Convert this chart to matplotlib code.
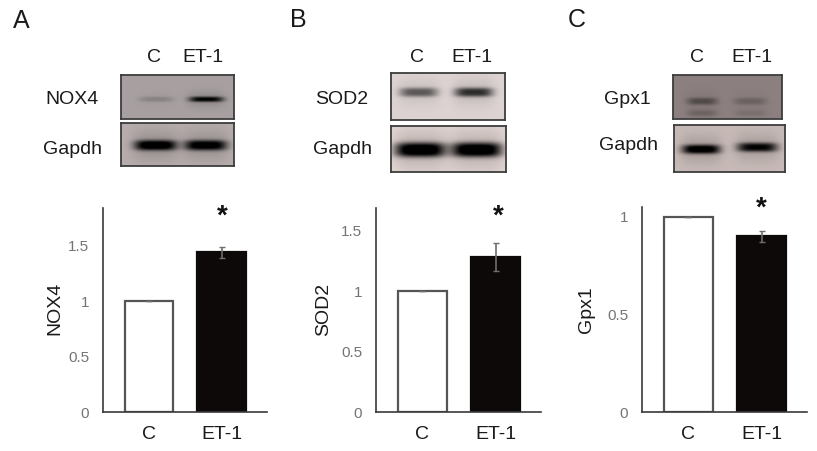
import numpy as np
import matplotlib
matplotlib.use('Agg')
import matplotlib.pyplot as plt

plt.rcParams['font.family'] = ['Liberation Sans', 'DejaVu Sans']

W, H = 817, 451

# -----------------------------------------------------------------
# Donnees
# -----------------------------------------------------------------
groups = ['C', 'ET-1']
panel_names = ['A', 'B', 'C']
proteins = ['NOX4', 'SOD2', 'Gpx1']

nox4_values = [1.0, 1.44]
nox4_low = [0.0, 0.05]
nox4_high = [0.0, 0.05]
sod2_values = [1.0, 1.285]
sod2_low = [0.0, 0.12]
sod2_high = [0.0, 0.115]
gpx1_values = [1.0, 0.90]
gpx1_low = [0.0, 0.03]
gpx1_high = [0.0, 0.028]

nox4_ticks = [0, 0.5, 1, 1.5]
sod2_ticks = [0, 0.5, 1, 1.5]
gpx1_ticks = [0, 0.5, 1]

# Intensite des bandes de western blot (0 = rien, 1 = tres sombre)
nox4_bands = [0.16, 0.85]
gapdh_a_bands = [1.0, 0.95]
sod2_bands = [0.50, 0.68]
gapdh_b_bands = [1.0, 1.0]
gpx1_bands = [0.36, 0.20]
gapdh_c_bands = [0.95, 0.85]


def px_axes(fig, x0, y0, x1, y1):
    """Axes places en pixels de l'image (origine en haut a gauche)."""
    return fig.add_axes([x0 / W, 1 - y1 / H, (x1 - x0) / W, (y1 - y0) / H])


def draw_blot(fig, box, bg, centers, half_widths, band_y, thick, strengths, tail=None):
    x0, y0, x1, y1 = box
    ax = px_axes(fig, x0, y0, x1, y1)
    xx, yy = np.meshgrid(np.arange(x0, x1, 0.5), np.arange(y0, y1, 0.5))
    dark = np.zeros_like(xx)
    for xc, hw, yc, s in zip(centers, half_widths, band_y, strengths):
        dark += s * np.exp(-((xx - xc) / hw)**4) * np.exp(-(np.abs(yy - yc) / thick)**3)
        # halo autour de la bande
        dark += 0.18 * s * np.exp(-((xx - xc) / (hw * 1.1))**4) * np.exp(-((yy - yc) / (thick * 3))**2)
        if tail is not None:
            dark += tail * s * np.exp(-((xx - xc) / hw)**4) * np.exp(-((yy - yc - 12) / 3.5)**2)
    base = np.array(bg)
    img = base[None, None, :] * (1 - np.clip(dark, 0, 1)[:, :, None])
    ax.imshow(img, extent=(x0, x1, y1, y0), aspect='auto', interpolation='bilinear')
    ax.set_xticks([])
    ax.set_yticks([])
    for s in ax.spines.values():
        s.set_linewidth(1.3)
        s.set_color('#3d3d3d')
    return ax


def draw_bars(fig, box, name, values, low, high, ticks, ylim_top, ylabel_x, ylabel_y, star):
    x0, y0, x1, y1 = box
    ax = px_axes(fig, x0, y0, x1, y1)
    ax.patch.set_alpha(0)
    ax.bar([0, 1], values, width=0.67, color=['white', '#0c0908'],
           edgecolor=['#555555', '#0c0908'], linewidth=1.6, zorder=2)
    ax.errorbar([0, 1], values, yerr=[low, high], fmt='none', ecolor='#6e6e6e',
                elinewidth=1.2, capsize=2.5, capthick=1.0, zorder=3)
    ax.set_xlim(-0.63, 1.62)
    ax.set_ylim(0, ylim_top)
    ax.set_xticks([0, 1])
    ax.set_xticklabels(groups, fontsize=14, color='#1a1a1a')
    ax.set_yticks(ticks)
    ax.set_yticklabels([f'{t:g}' for t in ticks], fontsize=11, color='#747474')
    ax.tick_params(axis='x', length=0, pad=10)
    ax.tick_params(axis='y', length=0, pad=10)
    ax.spines['top'].set_visible(False)
    ax.spines['right'].set_visible(False)
    ax.spines['left'].set_color('#3a3a3a')
    ax.spines['bottom'].set_color('#3a3a3a')
    ax.spines['left'].set_linewidth(1.2)
    ax.spines['bottom'].set_linewidth(1.2)
    ax.set_ylabel(name, fontsize=14, color='#1a1a1a', va='center')
    ax.yaxis.set_label_coords(ylabel_x / W, 1 - ylabel_y / H, transform=fig.transFigure)
    fig.text(star[0] / W, 1 - star[1] / H, '*', fontsize=20, fontweight='bold',
             ha='center', va='center', color='#111111')
    return ax


def label(fig, x, y, s, size=14, color='#1a1a1a'):
    fig.text(x / W, 1 - y / H, s, fontsize=size, ha='center', va='center', color=color)


fig = plt.figure(figsize=(W / 100, H / 100), dpi=100)

# -----------------------------------------------------------------
# Panneau A
# -----------------------------------------------------------------
draw_blot(fig, (121, 75, 234, 119), (0.66, 0.63, 0.63), [156, 206], [17, 17], [99, 99], 2.6, nox4_bands)
draw_blot(fig, (121, 123, 234, 166), (0.72, 0.68, 0.68), [155.5, 205.5], [21, 21], [145, 145], 5.0, gapdh_a_bands)
label(fig, 72, 99, proteins[0])
label(fig, 73, 150, 'Gapdh')
label(fig, 154, 57, groups[0])
label(fig, 203, 57, groups[1])
label(fig, 21, 21, panel_names[0], 18)
draw_bars(fig, (103, 208, 267, 412), proteins[0], nox4_values, nox4_low, nox4_high,
          nox4_ticks, 1.84, 55, 308, (222, 217))

# -----------------------------------------------------------------
# Panneau B
# -----------------------------------------------------------------
draw_blot(fig, (391, 73, 505, 120), (0.87, 0.83, 0.83), [418.5, 473.5], [19, 19], [92, 92], 4.5, sod2_bands)
draw_blot(fig, (391, 126, 506, 172), (0.90, 0.85, 0.84), [420, 476.5], [25, 25], [150, 150], 7.0, gapdh_b_bands)
label(fig, 342, 99, proteins[1])
label(fig, 342, 150, 'Gapdh')
label(fig, 417, 57, groups[0])
label(fig, 472, 57, groups[1])
label(fig, 298, 20, panel_names[1], 18)
draw_bars(fig, (376, 208, 541, 412), proteins[1], sod2_values, sod2_low, sod2_high,
          sod2_ticks, 1.69, 324, 309, (498, 217))

# -----------------------------------------------------------------
# Panneau C
# -----------------------------------------------------------------
draw_blot(fig, (673, 75, 782, 119), (0.55, 0.50, 0.50), [702, 750], [15, 16], [101, 101], 3.5, gpx1_bands, tail=0.6)
draw_blot(fig, (674, 125, 785, 172), (0.78, 0.73, 0.72), [701, 757], [19, 20], [149, 147], 4.5, gapdh_c_bands)
label(fig, 627, 100, proteins[2])
label(fig, 628, 146, 'Gapdh')
label(fig, 697, 57, groups[0])
label(fig, 752, 57, groups[1])
label(fig, 577, 20, panel_names[2], 18)
draw_bars(fig, (642, 207, 807, 412), proteins[2], gpx1_values, gpx1_low, gpx1_high,
          gpx1_ticks, 1.05, 587, 310, (761, 209))

plt.savefig('out.png', dpi=100)
plt.close()
